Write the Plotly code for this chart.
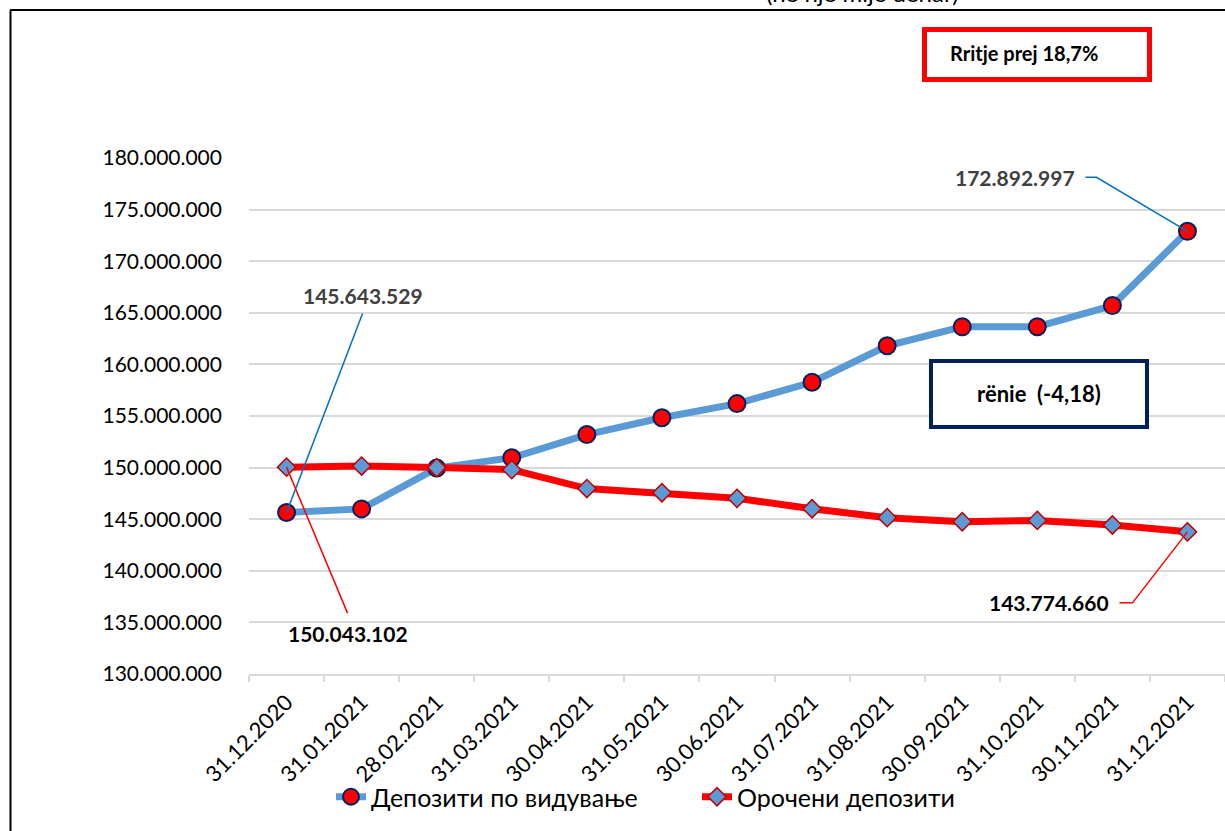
import plotly.graph_objects as go

dates = ["31.12.2020", "31.01.2021", "28.02.2021", "31.03.2021", "30.04.2021", "31.05.2021",
         "30.06.2021", "31.07.2021", "31.08.2021", "30.09.2021", "31.10.2021", "30.11.2021", "31.12.2021"]
demand = [145643529, 146000000, 149950000, 150950000, 153200000, 154830000, 156200000,
          158270000, 161800000, 163640000, 163650000, 165700000, 172892997]
term = [150043102, 150150000, 150000000, 149800000, 147970000, 147560000, 147020000,
        146010000, 145150000, 144750000, 144880000, 144440000, 143774660]
names = ["Депозити по видување", "Орочени депозити"]
y_ticks = list(range(130000000, 180000001, 5000000))

FONT = "Lato, 'Noto Sans', sans-serif"
L, R, T, B = 249, 1225, 158, 674
W, H = 1225, 831


def px(x):
    return (x - L) / (R - L)


def py(y):
    return (B - y) / (B - T)


def fmt(v):
    return f"{v:,}".replace(",", ".")


fig = go.Figure()
fig.add_trace(go.Scatter(
    x=dates, y=demand, name=names[0], mode="lines+markers",
    line=dict(color="#5B9BD5", width=7),
    marker=dict(symbol="circle", size=17, color="#FF0000", line=dict(color="#002060", width=2)),
))
fig.add_trace(go.Scatter(
    x=dates, y=term, name=names[1], mode="lines+markers",
    line=dict(color="#FF0000", width=7),
    marker=dict(symbol="diamond", size=14, color="#5B9BD5", line=dict(color="#C00000", width=1.5)),
))

shapes = []
annotations = []


def leader(xv, yv, path, color):
    shapes.append(dict(type="path", xref="x", yref="y", xsizemode="pixel", ysizemode="pixel",
                       xanchor=xv, yanchor=yv, path=path,
                       line=dict(color=color, width=1.5)))


leader(dates[0], demand[0], "M0,0 L76,199", "#0070C0")
leader(dates[0], term[0], "M0,0 L61,-146", "#FF0000")
leader(dates[-1], demand[-1], "M0,0 L-91,54 L-102,54", "#0070C0")
leader(dates[-1], term[-1], "M0,0 L-55,-71 L-68,-71", "#FF0000")


def label(xv, yv, text, color, xs, ys):
    annotations.append(dict(x=xv, y=yv, xref="x", yref="y", text=f"<b>{text}</b>", showarrow=False,
                            xshift=xs, yshift=ys, font=dict(family=FONT, size=21, color=color),
                            xanchor="center", yanchor="middle"))


label(dates[0], demand[0], fmt(demand[0]), "#404040", 76, 217)
label(dates[0], term[0], fmt(term[0]), "#000000", 61, -166)
label(dates[-1], demand[-1], fmt(demand[-1]), "#404040", -172, 54)
label(dates[-1], term[-1], fmt(term[-1]), "#000000", -138, -71)

# boxes
shapes.append(dict(type="rect", xref="paper", yref="paper", x0=px(924.5), x1=px(1149.5),
                   y0=py(79.5), y1=py(29.5), line=dict(color="#FF0000", width=5), fillcolor="white"))
annotations.append(dict(x=px(948), y=py(53), xref="paper", yref="paper", text="<b>Rritje prej 18,7%</b>",
                        showarrow=False, xanchor="left", yanchor="middle",
                        font=dict(family=FONT, size=20, color="#000000")))
shapes.append(dict(type="rect", xref="paper", yref="paper", x0=px(931), x1=px(1147),
                   y0=py(427), y1=py(361), line=dict(color="#002060", width=4), fillcolor="white"))
annotations.append(dict(x=px(1039), y=py(393), xref="paper", yref="paper",
                        text="<b>rënie\u00a0\u00a0(-4,18)</b>",
                        showarrow=False, xanchor="center", yanchor="middle",
                        font=dict(family=FONT, size=22, color="#000000")))

# frame lines
shapes.append(dict(type="line", xref="paper", yref="paper", x0=px(10.5), x1=px(10.5), y0=py(850), y1=py(10),
                   line=dict(color="#000000", width=2)))
shapes.append(dict(type="line", xref="paper", yref="paper", x0=px(10), x1=px(1240), y0=py(10), y1=py(10),
                   line=dict(color="#000000", width=2)))

# cut-off title
annotations.append(dict(x=px(862), y=py(-8), xref="paper", yref="paper", text="(në një mijë denar)",
                        showarrow=False, xanchor="center", yanchor="middle",
                        font=dict(family=FONT, size=24, color="#000000")))

fig.update_layout(
    width=W, height=H,
    margin=dict(l=L, r=W - R, t=T, b=H - B, autoexpand=False),
    paper_bgcolor="white", plot_bgcolor="white",
    separators=",.",
    font=dict(family=FONT, size=21, color="#000000"),
    showlegend=True,
    legend=dict(orientation="h", x=px(331), y=py(797), xanchor="left", yanchor="middle",
                font=dict(family=FONT, size=25, color="#000000"), entrywidth=321,
                bgcolor="rgba(0,0,0,0)"),
    shapes=shapes, annotations=annotations,
)
fig.update_xaxes(
    type="category", range=[-0.5, len(dates) - 0.5], tickangle=-45,
    tickfont=dict(family=FONT, size=22, color="#000000"),
    ticks="outside", ticklen=6, tickcolor="#D9D9D9", tickwidth=1.5, tickson="boundaries",
    showline=True, linecolor="#D9D9D9", linewidth=1.5, showgrid=False, automargin=False,
    ticklabelstandoff=5,
)
fig.update_yaxes(
    range=[y_ticks[0], y_ticks[-1]], tickvals=y_ticks, ticktext=[fmt(v) for v in y_ticks],
    tickfont=dict(family=FONT, size=21, color="#000000"),
    showgrid=True, gridcolor="#D9D9D9", gridwidth=1.5, zeroline=False, showline=False,
    ticks="", ticklabelstandoff=26, automargin=False,
)

fig.write_html("out.html", config={"displayModeBar": False},
               post_script="document.body.style.margin='0';document.body.style.overflow='hidden';")
